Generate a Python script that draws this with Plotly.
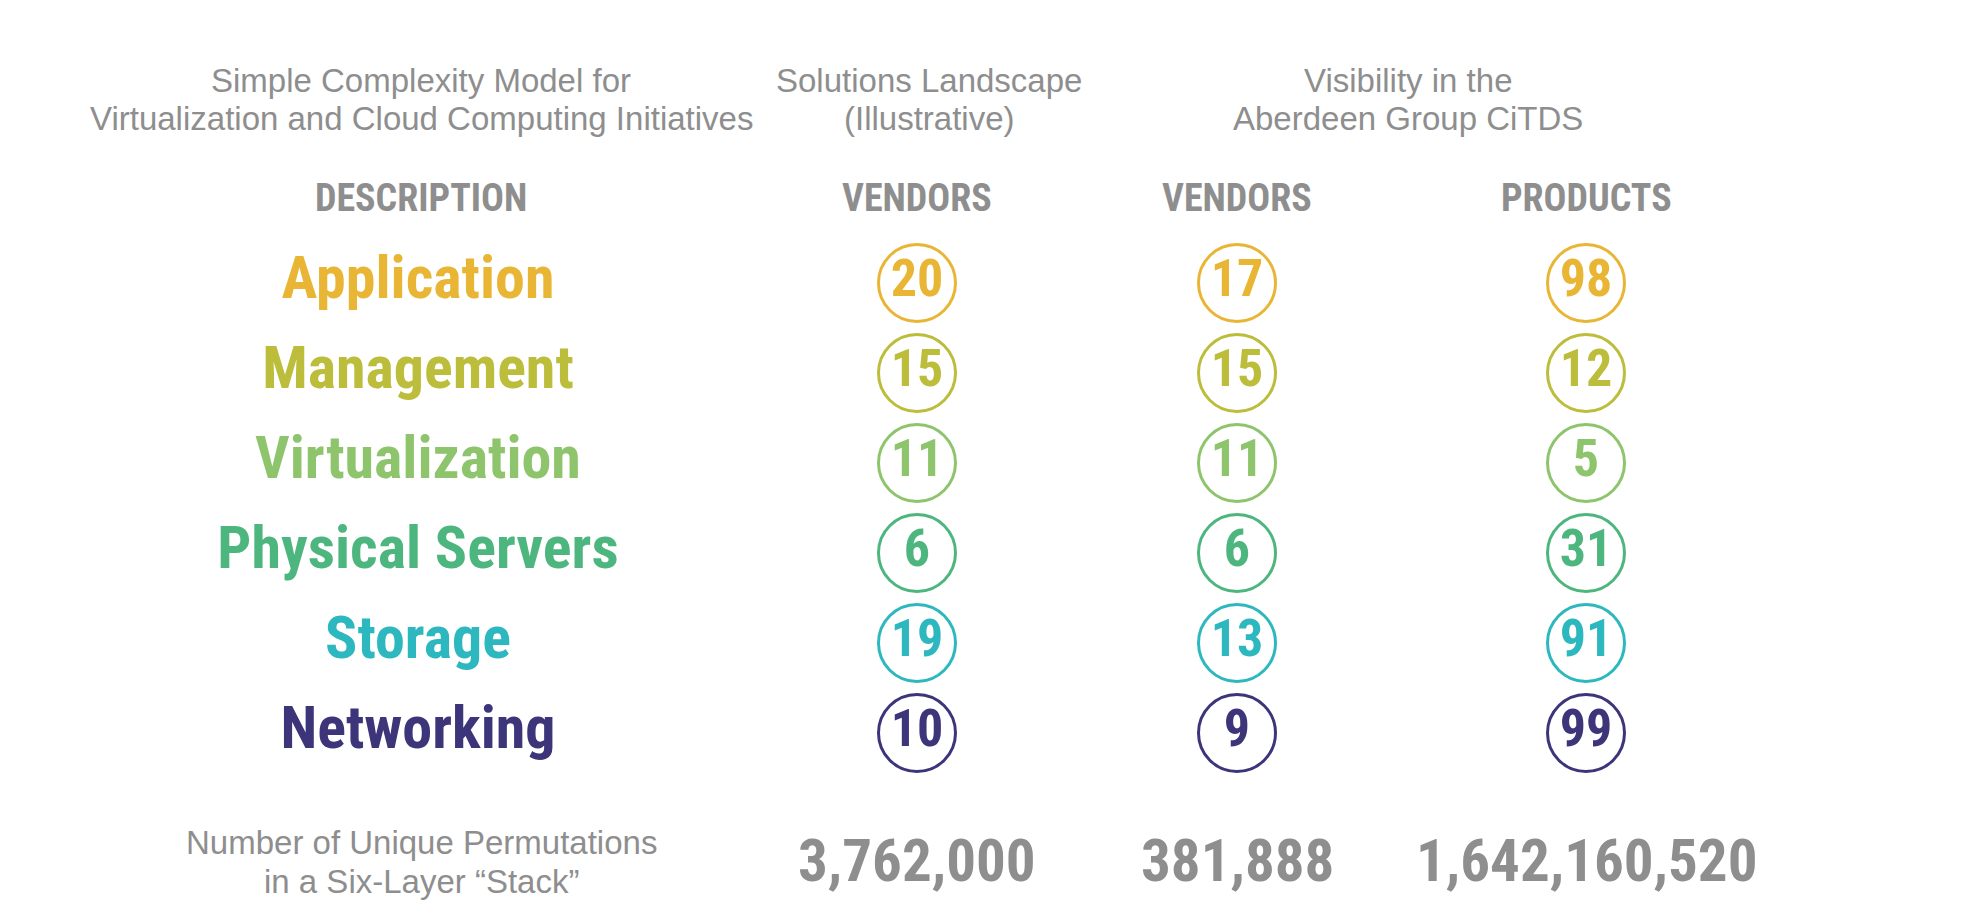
import plotly.graph_objects as go

# --- data ---
layers = ["Application", "Management", "Virtualization", "Physical Servers", "Storage", "Networking"]
layer_colors = ["#E9B534", "#BBBD3B", "#8EC46C", "#4DB67E", "#2CB8BE", "#3C3579"]

vendors_landscape = [20, 15, 11, 6, 19, 10]
vendors_citds = [17, 15, 11, 6, 13, 9]
products_citds = [98, 12, 5, 31, 91, 99]

column_headers = ["VENDORS", "VENDORS", "PRODUCTS"]
permutations = ["3,762,000", "381,888", "1,642,160,520"]

group_titles = [
    ["Simple Complexity Model for", "Virtualization and Cloud Computing Initiatives"],
    ["Solutions Landscape", "(Illustrative)"],
    ["Visibility in the", "Aberdeen Group CiTDS"],
]
footer_lines = ["Number of Unique Permutations", "in a Six-Layer \u201cStack\u201d"]

# --- layout constants (pixels) ---
W, H = 1976, 912
ROW0, ROW_STEP = 283, 90
LABEL_X = 418
COL_X = [917, 1237, 1586]
TITLE_X = [421, 929, 1408]

GRAY = "#8E8E8E"
NARROW = "Roboto Condensed, Open Sans Condensed, Liberation Sans, sans-serif"
REGULAR = "Liberation Sans, Arial, sans-serif"


def py(p):
    # pixel row -> paper y
    return 1 - p / H


fig = go.Figure()

# row labels
fig.add_trace(go.Scatter(
    x=[LABEL_X] * len(layers),
    y=list(range(len(layers))),
    mode="text",
    text=layers,
    textposition="middle center",
    textfont=dict(family=NARROW, size=60, color=layer_colors, weight="bold"),
    hoverinfo="skip",
))

# circled counts, one trace per column
for cx, vals in zip(COL_X, [vendors_landscape, vendors_citds, products_citds]):
    fig.add_trace(go.Scatter(
        x=[cx] * len(vals),
        y=list(range(len(vals))),
        mode="markers+text",
        text=[str(v) for v in vals],
        textposition="middle center",
        textfont=dict(family=NARROW, size=52, color=layer_colors, weight="bold"),
        marker=dict(symbol="circle", size=77, color="white",
                    line=dict(width=3, color=layer_colors)),
        hoverinfo="skip",
    ))

annotations = []

# group titles (two lines each)
for tx, lines in zip(TITLE_X, group_titles):
    for k, line in enumerate(lines):
        annotations.append(dict(
            x=tx, y=py(80 + 39 * k), xref="x", yref="paper",
            text=line, showarrow=False, xanchor="center", yanchor="middle",
            font=dict(family=REGULAR, size=33, color=GRAY),
        ))

# column headers
for hx, label in zip([421] + COL_X, ["DESCRIPTION"] + column_headers):
    annotations.append(dict(
        x=hx, y=py(198), xref="x", yref="paper",
        text=label, showarrow=False, xanchor="center", yanchor="middle",
        font=dict(family=NARROW, size=38, color=GRAY, weight="bold"),
    ))

# footer
for k, line in enumerate(footer_lines):
    annotations.append(dict(
        x=421, y=py(842 + 39 * k), xref="x", yref="paper",
        text=line, showarrow=False, xanchor="center", yanchor="middle",
        font=dict(family=REGULAR, size=33, color=GRAY),
    ))
for nx, total in zip(COL_X, permutations):
    annotations.append(dict(
        x=nx, y=py(860), xref="x", yref="paper",
        text=total, showarrow=False, xanchor="center", yanchor="middle",
        font=dict(family=NARROW, size=59, color=GRAY, weight="bold"),
    ))

fig.update_layout(
    width=W, height=H,
    margin=dict(l=0, r=0, t=0, b=0),
    paper_bgcolor="white",
    plot_bgcolor="white",
    showlegend=False,
    annotations=annotations,
    xaxis=dict(range=[0, W], visible=False, fixedrange=True),
    yaxis=dict(range=[(H - ROW0) / ROW_STEP, -ROW0 / ROW_STEP], visible=False, fixedrange=True),
)

fig.write_html("out.html", config={"displayModeBar": False},
               post_script="document.body.style.margin='0';")
